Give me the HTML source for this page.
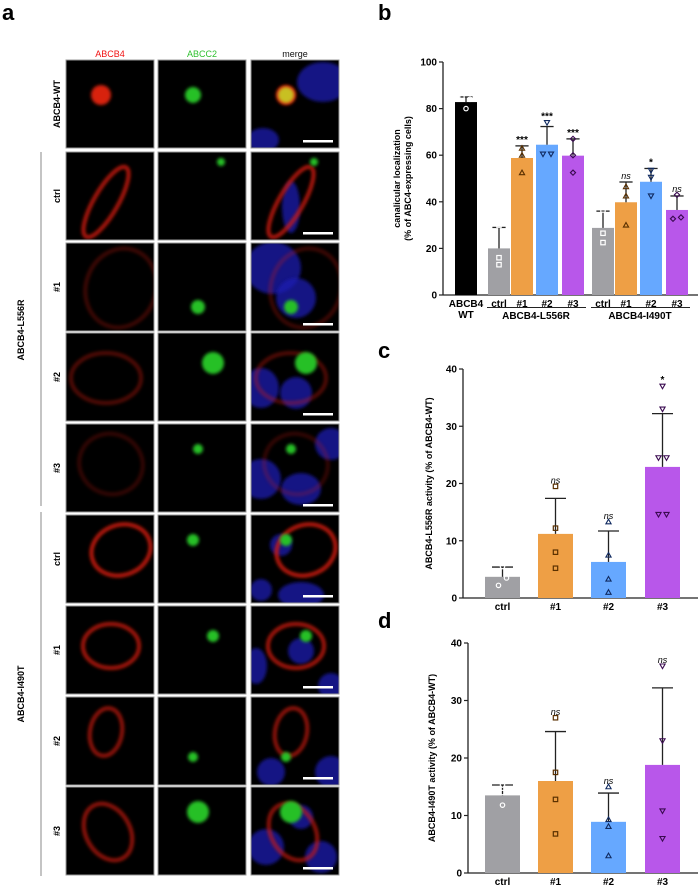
<!DOCTYPE html>
<html><head><meta charset="utf-8"><style>
body{margin:0;background:#fff;width:700px;height:887px;overflow:hidden;font-family:"Liberation Sans",Arial,sans-serif}
svg{position:absolute;left:0;top:0}
</style></head><body>
<svg id="fig" width="700" height="887" xmlns="http://www.w3.org/2000/svg" font-family="Liberation Sans, Arial, sans-serif">
<defs id="defs">
<filter id="bl" x="-50%" y="-50%" width="200%" height="200%"><feGaussianBlur stdDeviation="1.5"/></filter>
<clipPath id="pclip"><rect x="0" y="0" width="88" height="88"/></clipPath>
</defs>
<text x="2" y="20" font-size="22" font-weight="bold">a</text>
<text x="378" y="20" font-size="22" font-weight="bold">b</text>
<text x="378" y="358" font-size="22" font-weight="bold">c</text>
<text x="378" y="628" font-size="22" font-weight="bold">d</text>
<text x="110" y="57" font-size="9" fill="#f01010" text-anchor="middle">ABCB4</text>
<text x="202" y="57" font-size="9" fill="#30c030" text-anchor="middle">ABCC2</text>
<text x="295" y="57" font-size="9" fill="#111" text-anchor="middle">merge</text>
<g id="grid"></g>
<line x1="41" y1="152" x2="41" y2="506" stroke="#888" stroke-width="1"/>
<line x1="41" y1="512" x2="41" y2="876" stroke="#888" stroke-width="1"/>
<text transform="translate(24,330) rotate(-90)" font-size="9" font-weight="bold" text-anchor="middle">ABCB4-L556R</text>
<text transform="translate(24,694) rotate(-90)" font-size="9" font-weight="bold" text-anchor="middle">ABCB4-I490T</text>
<g id="chartB"></g>
<g id="chartC"></g>
<g id="chartD"></g>
</svg>
<script>
// ---- chart data ----
const bCategories = ["ABCB4 WT","ctrl","#1","#2","#3","ctrl","#1","#2","#3"];
const bMeans = [82.8,20,58.8,64.5,59.8,28.8,39.8,48.6,36.5];
const bErr = [85,29,64,72.3,67,36,48.5,54.3,42.5];
const bPoints = [[85,84,80],[30,16,13],[63,60,52.5],[74,60.5,60.5],[67,60,52.5],[36.5,26.5,22.5],[46.5,42.5,30],[53.5,50.5,42.5],[43,33.3,32.7]];
const bSig = ["","","***","***","***","","ns","*","ns"];
const bTicks = [0,20,40,60,80,100];
const cCategories = ["ctrl","#1","#2","#3"];
const cMeans = [3.7,11.2,6.3,22.9];
const cErr = [5.4,17.4,11.7,32.2];
const cPoints = [[5.5,3.5,2.2],[19.5,12.2,8,5.2],[13.3,7.5,3.3,1],[37,33,24.5,24.5,14.6,14.6]];
const cSig = ["","ns","ns","*"];
const dCategories = ["ctrl","#1","#2","#3"];
const dMeans = [13.5,16,8.9,18.8];
const dErr = [15.3,24.6,13.9,32.2];
const dPoints = [[15.3,14,11.8],[27,17.5,12.8,6.8],[15,9.3,8.1,3],[36,23,10.8,6]];
const dSig = ["","ns","ns","ns"];
const cdTicks = [0,10,20,30,40];

const NS="http://www.w3.org/2000/svg";
function mk(parent,tag,attrs,txt){const e=document.createElementNS(NS,tag);for(const k in attrs)e.setAttribute(k,attrs[k]);if(txt!==undefined)e.textContent=txt;parent.appendChild(e);return e;}

const bColors=["#000","#a0a0a4","#ee9f45","#66a8ff","#b857ea","#a0a0a4","#ee9f45","#66a8ff","#b857ea"];
const cdColors=["#a0a0a4","#ee9f45","#66a8ff","#b857ea"];

function marker(g,shape,x,y,stroke){
  let e;
  if(shape==="circle"){e=mk(g,"circle",{cx:x,cy:y,r:2.2,fill:"none",stroke:stroke,"stroke-width":1.2});}
  else if(shape==="square"){e=mk(g,"rect",{x:x-2.2,y:y-2.2,width:4.4,height:4.4,fill:"none",stroke:stroke,"stroke-width":1.2});}
  else if(shape==="up"){e=mk(g,"polygon",{points:`${x},${y-2.6} ${x+2.6},${y+2} ${x-2.6},${y+2}`,fill:"none",stroke:stroke,"stroke-width":1.1});}
  else if(shape==="down"){e=mk(g,"polygon",{points:`${x},${y+2.6} ${x+2.6},${y-2} ${x-2.6},${y-2}`,fill:"none",stroke:stroke,"stroke-width":1.1});}
  else {e=mk(g,"polygon",{points:`${x},${y-2.6} ${x+2.6},${y} ${x},${y+2.6} ${x-2.6},${y}`,fill:"none",stroke:stroke,"stroke-width":1.1});}
  
  
}

function drawChart(cfg){
  const g=document.getElementById(cfg.id);
  const y=v=>cfg.y0-(v-0)/cfg.max*(cfg.y0-cfg.yTop);
  mk(g,"line",{x1:cfg.ax,y1:cfg.yTop,x2:cfg.ax,y2:cfg.y0+0.5,stroke:"#222","stroke-width":1.3});
  mk(g,"line",{x1:cfg.ax,y1:cfg.y0,x2:cfg.axEnd,y2:cfg.y0,stroke:"#222","stroke-width":1.3});
  cfg.ticks.forEach(t=>{
    mk(g,"line",{x1:cfg.ax-4,y1:y(t),x2:cfg.ax,y2:y(t),stroke:"#222","stroke-width":1.2});
    const tl=mk(g,"text",{x:cfg.ax-6,y:y(t)+3.5,"font-size":10,"font-weight":"bold","text-anchor":"end"},t);
    
    
  });
  cfg.means.forEach((m,i)=>{
    const bx=cfg.barX[i], w=cfg.barW, cx=bx+w/2;
    const r=mk(g,"rect",{x:bx,y:y(m),width:w,height:cfg.y0-y(m),fill:cfg.colors[i]});
    
    
    mk(g,"line",{x1:cx,y1:y(m),x2:cx,y2:y(cfg.err[i]),stroke:"#222","stroke-width":1.3});
    mk(g,"line",{x1:cx-w*0.3,y1:y(cfg.err[i]),x2:cx+w*0.3,y2:y(cfg.err[i]),stroke:"#222","stroke-width":1.3});
    const pts=cfg.points[i];
    pts.forEach((p,j)=>{
      let dx=0;
      if(pts.length>=3 && cfg.spread){const same=pts.filter(q=>Math.abs(q-p)<1.5).length>1; if(same){dx=(j%2?4:-4);}}
      marker(g,cfg.shapes[i],cx+dx,y(p),cfg.mk[i]);
    });
    if(cfg.sig[i]){
      const s=mk(g,"text",{x:cx,y:y(Math.max(cfg.err[i],...pts))-3,"font-size":cfg.sig[i]==="ns"?9:10,"font-style":cfg.sig[i]==="ns"?"italic":"normal","font-weight":cfg.sig[i]==="ns"?"normal":"bold","text-anchor":"middle"},cfg.sig[i]);
      
      
    }
    const lab=cfg.cats[i];
    if(lab==="ABCB4 WT"){
      const a=mk(g,"text",{x:cx,y:cfg.y0+12,"font-size":10,"font-weight":"bold","text-anchor":"middle"},"ABCB4");
       
      const b=mk(g,"text",{x:cx,y:cfg.y0+23,"font-size":10,"font-weight":"bold","text-anchor":"middle"},"WT");
       
    } else {
      const t=mk(g,"text",{x:cx,y:cfg.y0+12,"font-size":10,"font-weight":"bold","text-anchor":"middle"},lab);
      
      
    }
  });
  const yt=mk(g,"text",{transform:`translate(${cfg.titleX},${(cfg.y0+cfg.yTop)/2}) rotate(-90)`,"font-size":9,"font-weight":"bold","text-anchor":"middle"});
  
  
  cfg.title.forEach((ln,k)=>{mk(yt,"tspan",{x:0,dy:k?11:0},ln);});
}

drawChart({id:"chartB",ax:443,axEnd:698,y0:295,yTop:62,max:100,ticks:bTicks,means:bMeans,err:bErr,points:bPoints,sig:bSig,cats:bCategories,
  barX:[455,488,511,536,562,592,615,640,666],barW:22,colors:bColors,
  shapes:["circle","square","up","down","diamond","square","up","down","diamond"],
  mk:["#fff","#fff","#5a3000","#102a60","#3a0a50","#fff","#5a3000","#102a60","#3a0a50"],
  spread:true,titleX:400,title:["canalicular localization","(% of ABC4-expressing cells)"]});
(function(){const g=document.getElementById("chartB");
 mk(g,"line",{x1:487,y1:307.5,x2:586,y2:307.5,stroke:"#222","stroke-width":1});
 mk(g,"line",{x1:591,y1:307.5,x2:690,y2:307.5,stroke:"#222","stroke-width":1});
 const a=mk(g,"text",{x:536,y:319,"font-size":10,"font-weight":"bold","text-anchor":"middle"},"ABCB4-L556R");
  
 const b=mk(g,"text",{x:640,y:319,"font-size":10,"font-weight":"bold","text-anchor":"middle"},"ABCB4-I490T");
  
})();
drawChart({id:"chartC",ax:463,axEnd:698,y0:598,yTop:369,max:40,ticks:cdTicks,means:cMeans,err:cErr,points:cPoints,sig:cSig,cats:cCategories,
  barX:[485,538,591,645],barW:35,colors:cdColors,shapes:["circle","square","up","down"],
  mk:["#fff","#5a3000","#102a60","#3a0a50"],spread:true,titleX:432,title:["ABCB4-L556R activity (% of ABCB4-WT)"]});
drawChart({id:"chartD",ax:468,axEnd:698,y0:873,yTop:643,max:40,ticks:cdTicks,means:dMeans,err:dErr,points:dPoints,sig:dSig,cats:dCategories,
  barX:[485,538,591,645],barW:35,colors:cdColors,shapes:["circle","square","up","down"],
  mk:["#fff","#5a3000","#102a60","#3a0a50"],spread:false,titleX:435,title:["ABCB4-I490T activity (% of ABCB4-WT)"]});

// ---- microscopy grid ----
(function(){
 const g=document.getElementById("grid");
 const cols=[66,158,251], size=88;
 const rowY=[60,152,243,333,424,515,606,697,787];
 const rowLab=["ABCB4-WT","ctrl","#1","#2","#3","ctrl","#1","#2","#3"];
 const cells=[
  [[35,35,10,10,0,1,true],[35,35,8],[[72,22,26,20],[12,80,16,12]]],
  [[40,50,12,40,30,0.85,false],[63,10,4],[[40,55,9,26]]],
  [[55,45,35,40,20,0.3,false],[40,64,7],[[22,25,28,26],[45,55,20,20]]],
  [[40,45,35,25,0,0.4,false],[55,30,11],[[10,55,18,20],[45,60,16,16]]],
  [[45,40,32,30,20,0.25,false],[40,25,5],[[10,55,20,20],[50,65,20,16],[80,20,16,16]]],
  [[55,35,30,25,-20,0.9,false],[35,25,6],[[30,30,11,11],[50,80,23,13],[10,75,11,11]]],
  [[45,40,28,22,0,0.8,false],[55,30,6],[[50,45,13,13],[5,60,11,18],[80,80,13,13]]],
  [[40,35,16,24,10,0.7,false],[35,60,5],[[20,75,14,14],[80,75,16,16]]],
  [[42,45,22,30,-30,0.7,false],[40,25,11],[[15,60,18,18],[70,70,16,16],[50,30,12,12]]]
 ];
 rowY.forEach((ry,r)=>{
  const lt=mk(g,"text",{transform:`translate(60,${ry+size/2}) rotate(-90)`,"font-size":9,"font-weight":"bold","text-anchor":"middle"},rowLab[r]);
  
  
  const [red,grn,blues]=cells[r];
  cols.forEach((cx,c)=>{
   const panel=mk(g,"g",{transform:`translate(${cx},${ry})`});
   
   
   mk(panel,"rect",{x:0,y:0,width:size,height:size,fill:"#000"});
   const clip=mk(panel,"g",{"clip-path":"url(#pclip)"});
   if(c===2){blues.forEach(b=>mk(clip,"ellipse",{cx:b[0],cy:b[1],rx:b[2],ry:b[3],fill:"#1c1cb0",opacity:0.75,filter:"url(#bl)"}));}
   if(c===0||c===2){
     if(red[6]) mk(clip,"circle",{cx:red[0],cy:red[1],r:red[2],fill:"#d82010",filter:"url(#bl)"});
     else mk(clip,"ellipse",{cx:red[0],cy:red[1],rx:red[2],ry:red[3],transform:`rotate(${red[4]} ${red[0]} ${red[1]})`,fill:"none",stroke:"#d01a10","stroke-width":4,opacity:red[5],filter:"url(#bl)"});
   }
   if(c===1||c===2){mk(clip,"circle",{cx:grn[0],cy:grn[1],r:grn[2],fill:c===2&&r===0?"#c8c020":"#28c028",filter:"url(#bl)"});}
   if(c===2){mk(clip,"rect",{x:size-36,y:size-8,width:30,height:2.5,fill:"#fff"});}
   mk(panel,"rect",{x:0,y:0,width:size,height:size,fill:"none",stroke:"#999","stroke-width":1});
  });
 });
})();
</script>
</body></html>
